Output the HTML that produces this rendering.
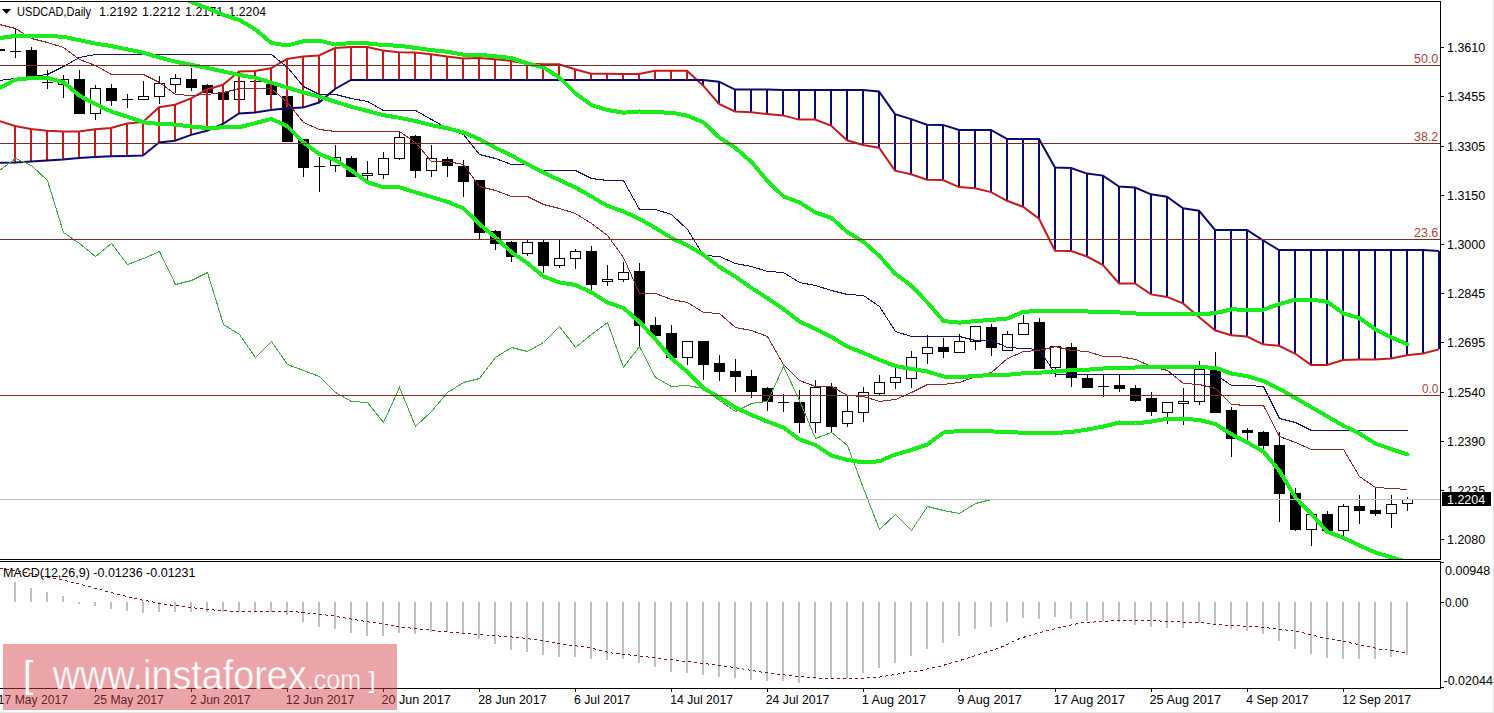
<!DOCTYPE html><html><head><meta charset="utf-8"><style>html,body{margin:0;padding:0;background:#fff;overflow:hidden}svg{display:block}text{font-family:"Liberation Sans",sans-serif}</style></head><body>
<svg width="1494" height="713" viewBox="0 0 1494 713">
<defs><clipPath id="cm"><rect x="0" y="2" width="1440" height="557"/></clipPath><clipPath id="cd"><rect x="0" y="562" width="1440" height="126"/></clipPath></defs>
<rect width="1494" height="713" fill="#fff"/>
<path d="M2,9 L11,9 L6.5,14 Z" fill="#000"/>
<text x="17.12" y="16" font-size="12.5" fill="#000" textLength="73.92" lengthAdjust="spacingAndGlyphs">USDCAD,Daily</text>
<text x="98.99" y="16" font-size="12.5" fill="#000" textLength="38.44" lengthAdjust="spacingAndGlyphs">1.2192</text>
<text x="141.99" y="16" font-size="12.5" fill="#000" textLength="38.44" lengthAdjust="spacingAndGlyphs">1.2212</text>
<text x="185.00" y="16" font-size="12.5" fill="#000" textLength="38.23" lengthAdjust="spacingAndGlyphs">1.2171</text>
<text x="228.62" y="16" font-size="12.5" fill="#000" textLength="37.41" lengthAdjust="spacingAndGlyphs">1.2204</text>
<g clip-path="url(#cm)">
<g shape-rendering="crispEdges">
<rect x="-1" y="49" width="1" height="2" fill="#000"/>
<rect x="-6" y="49" width="11" height="2" fill="#000"/>
<rect x="15" y="28" width="1" height="30" fill="#000"/>
<rect x="10" y="51" width="11" height="1" fill="#000"/>
<rect x="31" y="47" width="1" height="31" fill="#000"/>
<rect x="26" y="50" width="11" height="28" fill="#000"/>
<rect x="47" y="70" width="1" height="19" fill="#000"/>
<rect x="42" y="82" width="11" height="1" fill="#000"/>
<rect x="63" y="75" width="1" height="23" fill="#000"/>
<rect x="58" y="79" width="11" height="6" fill="#000"/>
<rect x="59" y="80" width="9" height="4" fill="#fff"/>
<rect x="79" y="70" width="1" height="44" fill="#000"/>
<rect x="74" y="79" width="11" height="35" fill="#000"/>
<rect x="95" y="85" width="1" height="35" fill="#000"/>
<rect x="90" y="88" width="11" height="26" fill="#000"/>
<rect x="91" y="89" width="9" height="24" fill="#fff"/>
<rect x="111" y="84" width="1" height="22" fill="#000"/>
<rect x="106" y="88" width="11" height="13" fill="#000"/>
<rect x="127" y="94" width="1" height="14" fill="#000"/>
<rect x="122" y="99" width="11" height="1" fill="#000"/>
<rect x="143" y="81" width="1" height="19" fill="#000"/>
<rect x="138" y="96" width="11" height="4" fill="#000"/>
<rect x="139" y="97" width="9" height="2" fill="#fff"/>
<rect x="159" y="76" width="1" height="28" fill="#000"/>
<rect x="154" y="83" width="11" height="14" fill="#000"/>
<rect x="155" y="84" width="9" height="12" fill="#fff"/>
<rect x="175" y="74" width="1" height="19" fill="#000"/>
<rect x="170" y="78" width="11" height="7" fill="#000"/>
<rect x="171" y="79" width="9" height="5" fill="#fff"/>
<rect x="191" y="68" width="1" height="23" fill="#000"/>
<rect x="186" y="79" width="11" height="9" fill="#000"/>
<rect x="207" y="84" width="1" height="9" fill="#000"/>
<rect x="202" y="85" width="11" height="8" fill="#000"/>
<rect x="223" y="91" width="1" height="9" fill="#000"/>
<rect x="218" y="92" width="11" height="8" fill="#000"/>
<rect x="239" y="81" width="1" height="19" fill="#000"/>
<rect x="234" y="81" width="11" height="19" fill="#000"/>
<rect x="235" y="82" width="9" height="17" fill="#fff"/>
<rect x="255" y="78" width="1" height="5" fill="#000"/>
<rect x="250" y="81" width="11" height="1" fill="#000"/>
<rect x="271" y="82" width="1" height="13" fill="#000"/>
<rect x="266" y="84" width="11" height="11" fill="#000"/>
<rect x="287" y="96" width="1" height="46" fill="#000"/>
<rect x="282" y="96" width="11" height="46" fill="#000"/>
<rect x="303" y="139" width="1" height="38" fill="#000"/>
<rect x="298" y="139" width="11" height="29" fill="#000"/>
<rect x="319" y="157" width="1" height="35" fill="#000"/>
<rect x="314" y="166" width="11" height="1" fill="#000"/>
<rect x="335" y="145" width="1" height="27" fill="#000"/>
<rect x="330" y="157" width="11" height="9" fill="#000"/>
<rect x="331" y="158" width="9" height="7" fill="#fff"/>
<rect x="351" y="156" width="1" height="21" fill="#000"/>
<rect x="346" y="158" width="11" height="19" fill="#000"/>
<rect x="367" y="161" width="1" height="19" fill="#000"/>
<rect x="362" y="173" width="11" height="3" fill="#000"/>
<rect x="363" y="174" width="9" height="1" fill="#fff"/>
<rect x="383" y="152" width="1" height="27" fill="#000"/>
<rect x="378" y="158" width="11" height="17" fill="#000"/>
<rect x="379" y="159" width="9" height="15" fill="#fff"/>
<rect x="399" y="132" width="1" height="28" fill="#000"/>
<rect x="394" y="137" width="11" height="22" fill="#000"/>
<rect x="395" y="138" width="9" height="20" fill="#fff"/>
<rect x="415" y="135" width="1" height="43" fill="#000"/>
<rect x="410" y="136" width="11" height="35" fill="#000"/>
<rect x="431" y="145" width="1" height="32" fill="#000"/>
<rect x="426" y="158" width="11" height="13" fill="#000"/>
<rect x="427" y="159" width="9" height="11" fill="#fff"/>
<rect x="447" y="157" width="1" height="20" fill="#000"/>
<rect x="442" y="159" width="11" height="7" fill="#000"/>
<rect x="463" y="160" width="1" height="37" fill="#000"/>
<rect x="458" y="166" width="11" height="16" fill="#000"/>
<rect x="479" y="180" width="1" height="59" fill="#000"/>
<rect x="474" y="180" width="11" height="53" fill="#000"/>
<rect x="495" y="230" width="1" height="20" fill="#000"/>
<rect x="490" y="231" width="11" height="13" fill="#000"/>
<rect x="511" y="241" width="1" height="21" fill="#000"/>
<rect x="506" y="242" width="11" height="15" fill="#000"/>
<rect x="527" y="240" width="1" height="16" fill="#000"/>
<rect x="522" y="242" width="11" height="12" fill="#000"/>
<rect x="523" y="243" width="9" height="10" fill="#fff"/>
<rect x="543" y="240" width="1" height="33" fill="#000"/>
<rect x="538" y="242" width="11" height="24" fill="#000"/>
<rect x="559" y="239" width="1" height="29" fill="#000"/>
<rect x="554" y="258" width="11" height="8" fill="#000"/>
<rect x="555" y="259" width="9" height="6" fill="#fff"/>
<rect x="575" y="249" width="1" height="20" fill="#000"/>
<rect x="570" y="251" width="11" height="8" fill="#000"/>
<rect x="571" y="252" width="9" height="6" fill="#fff"/>
<rect x="591" y="246" width="1" height="44" fill="#000"/>
<rect x="586" y="251" width="11" height="34" fill="#000"/>
<rect x="607" y="265" width="1" height="21" fill="#000"/>
<rect x="602" y="279" width="11" height="3" fill="#000"/>
<rect x="603" y="280" width="9" height="1" fill="#fff"/>
<rect x="623" y="262" width="1" height="20" fill="#000"/>
<rect x="618" y="272" width="11" height="8" fill="#000"/>
<rect x="619" y="273" width="9" height="6" fill="#fff"/>
<rect x="639" y="263" width="1" height="84" fill="#000"/>
<rect x="634" y="271" width="11" height="55" fill="#000"/>
<rect x="655" y="317" width="1" height="19" fill="#000"/>
<rect x="650" y="325" width="11" height="11" fill="#000"/>
<rect x="671" y="325" width="1" height="33" fill="#000"/>
<rect x="666" y="333" width="11" height="25" fill="#000"/>
<rect x="687" y="341" width="1" height="24" fill="#000"/>
<rect x="682" y="341" width="11" height="17" fill="#000"/>
<rect x="683" y="342" width="9" height="15" fill="#fff"/>
<rect x="703" y="341" width="1" height="39" fill="#000"/>
<rect x="698" y="341" width="11" height="24" fill="#000"/>
<rect x="719" y="355" width="1" height="26" fill="#000"/>
<rect x="714" y="363" width="11" height="9" fill="#000"/>
<rect x="735" y="359" width="1" height="33" fill="#000"/>
<rect x="730" y="371" width="11" height="6" fill="#000"/>
<rect x="751" y="370" width="1" height="28" fill="#000"/>
<rect x="746" y="376" width="11" height="16" fill="#000"/>
<rect x="767" y="387" width="1" height="24" fill="#000"/>
<rect x="762" y="388" width="11" height="14" fill="#000"/>
<rect x="783" y="394" width="1" height="18" fill="#000"/>
<rect x="778" y="402" width="11" height="1" fill="#000"/>
<rect x="799" y="390" width="1" height="43" fill="#000"/>
<rect x="794" y="402" width="11" height="21" fill="#000"/>
<rect x="815" y="380" width="1" height="53" fill="#000"/>
<rect x="810" y="387" width="11" height="36" fill="#000"/>
<rect x="811" y="388" width="9" height="34" fill="#fff"/>
<rect x="831" y="383" width="1" height="49" fill="#000"/>
<rect x="826" y="387" width="11" height="40" fill="#000"/>
<rect x="847" y="395" width="1" height="32" fill="#000"/>
<rect x="842" y="411" width="11" height="13" fill="#000"/>
<rect x="843" y="412" width="9" height="11" fill="#fff"/>
<rect x="863" y="387" width="1" height="35" fill="#000"/>
<rect x="858" y="392" width="11" height="21" fill="#000"/>
<rect x="859" y="393" width="9" height="19" fill="#fff"/>
<rect x="879" y="375" width="1" height="21" fill="#000"/>
<rect x="874" y="382" width="11" height="12" fill="#000"/>
<rect x="875" y="383" width="9" height="10" fill="#fff"/>
<rect x="895" y="368" width="1" height="21" fill="#000"/>
<rect x="890" y="377" width="11" height="6" fill="#000"/>
<rect x="891" y="378" width="9" height="4" fill="#fff"/>
<rect x="911" y="351" width="1" height="37" fill="#000"/>
<rect x="906" y="357" width="11" height="22" fill="#000"/>
<rect x="907" y="358" width="9" height="20" fill="#fff"/>
<rect x="927" y="335" width="1" height="29" fill="#000"/>
<rect x="922" y="347" width="11" height="7" fill="#000"/>
<rect x="923" y="348" width="9" height="5" fill="#fff"/>
<rect x="943" y="338" width="1" height="20" fill="#000"/>
<rect x="938" y="347" width="11" height="5" fill="#000"/>
<rect x="959" y="334" width="1" height="19" fill="#000"/>
<rect x="954" y="341" width="11" height="12" fill="#000"/>
<rect x="955" y="342" width="9" height="10" fill="#fff"/>
<rect x="975" y="326" width="1" height="24" fill="#000"/>
<rect x="970" y="326" width="11" height="16" fill="#000"/>
<rect x="971" y="327" width="9" height="14" fill="#fff"/>
<rect x="991" y="324" width="1" height="32" fill="#000"/>
<rect x="986" y="327" width="11" height="21" fill="#000"/>
<rect x="1007" y="331" width="1" height="20" fill="#000"/>
<rect x="1002" y="334" width="11" height="17" fill="#000"/>
<rect x="1003" y="335" width="9" height="15" fill="#fff"/>
<rect x="1023" y="315" width="1" height="20" fill="#000"/>
<rect x="1018" y="323" width="11" height="12" fill="#000"/>
<rect x="1019" y="324" width="9" height="10" fill="#fff"/>
<rect x="1039" y="318" width="1" height="51" fill="#000"/>
<rect x="1034" y="322" width="11" height="47" fill="#000"/>
<rect x="1055" y="346" width="1" height="31" fill="#000"/>
<rect x="1050" y="346" width="11" height="22" fill="#000"/>
<rect x="1051" y="347" width="9" height="20" fill="#fff"/>
<rect x="1071" y="343" width="1" height="44" fill="#000"/>
<rect x="1066" y="347" width="11" height="31" fill="#000"/>
<rect x="1087" y="374" width="1" height="14" fill="#000"/>
<rect x="1082" y="378" width="11" height="10" fill="#000"/>
<rect x="1103" y="374" width="1" height="23" fill="#000"/>
<rect x="1098" y="386" width="11" height="1" fill="#000"/>
<rect x="1119" y="374" width="1" height="18" fill="#000"/>
<rect x="1114" y="385" width="11" height="4" fill="#000"/>
<rect x="1135" y="385" width="1" height="17" fill="#000"/>
<rect x="1130" y="388" width="11" height="13" fill="#000"/>
<rect x="1151" y="392" width="1" height="24" fill="#000"/>
<rect x="1146" y="398" width="11" height="14" fill="#000"/>
<rect x="1167" y="402" width="1" height="22" fill="#000"/>
<rect x="1162" y="402" width="11" height="11" fill="#000"/>
<rect x="1163" y="403" width="9" height="9" fill="#fff"/>
<rect x="1183" y="388" width="1" height="37" fill="#000"/>
<rect x="1178" y="401" width="11" height="3" fill="#000"/>
<rect x="1179" y="402" width="9" height="1" fill="#fff"/>
<rect x="1199" y="361" width="1" height="44" fill="#000"/>
<rect x="1194" y="369" width="11" height="33" fill="#000"/>
<rect x="1195" y="370" width="9" height="31" fill="#fff"/>
<rect x="1215" y="352" width="1" height="61" fill="#000"/>
<rect x="1210" y="370" width="11" height="43" fill="#000"/>
<rect x="1231" y="407" width="1" height="50" fill="#000"/>
<rect x="1226" y="410" width="11" height="29" fill="#000"/>
<rect x="1247" y="428" width="1" height="14" fill="#000"/>
<rect x="1242" y="430" width="11" height="3" fill="#000"/>
<rect x="1263" y="431" width="1" height="21" fill="#000"/>
<rect x="1258" y="432" width="11" height="14" fill="#000"/>
<rect x="1279" y="432" width="1" height="90" fill="#000"/>
<rect x="1274" y="445" width="11" height="49" fill="#000"/>
<rect x="1295" y="488" width="1" height="43" fill="#000"/>
<rect x="1290" y="493" width="11" height="37" fill="#000"/>
<rect x="1311" y="514" width="1" height="32" fill="#000"/>
<rect x="1306" y="514" width="11" height="16" fill="#000"/>
<rect x="1307" y="515" width="9" height="14" fill="#fff"/>
<rect x="1327" y="511" width="1" height="20" fill="#000"/>
<rect x="1322" y="514" width="11" height="17" fill="#000"/>
<rect x="1343" y="504" width="1" height="33" fill="#000"/>
<rect x="1338" y="506" width="11" height="25" fill="#000"/>
<rect x="1339" y="507" width="9" height="23" fill="#fff"/>
<rect x="1359" y="495" width="1" height="29" fill="#000"/>
<rect x="1354" y="506" width="11" height="5" fill="#000"/>
<rect x="1375" y="487" width="1" height="29" fill="#000"/>
<rect x="1370" y="510" width="11" height="4" fill="#000"/>
<rect x="1391" y="495" width="1" height="33" fill="#000"/>
<rect x="1386" y="504" width="11" height="10" fill="#000"/>
<rect x="1387" y="505" width="9" height="8" fill="#fff"/>
<rect x="1407" y="497" width="1" height="14" fill="#000"/>
<rect x="1402" y="499" width="11" height="5" fill="#000"/>
<rect x="1403" y="500" width="9" height="3" fill="#fff"/>
</g>
<g stroke-width="2" shape-rendering="crispEdges">
<line x1="-1.0" y1="121" x2="-1.0" y2="162.8" stroke="#c41c1c"/>
<line x1="15.0" y1="126" x2="15.0" y2="162.4" stroke="#c41c1c"/>
<line x1="31.0" y1="129" x2="31.0" y2="161.5" stroke="#c41c1c"/>
<line x1="47.0" y1="130.7" x2="47.0" y2="160.5" stroke="#c41c1c"/>
<line x1="63.0" y1="131.5" x2="63.0" y2="159.5" stroke="#c41c1c"/>
<line x1="79.0" y1="131.5" x2="79.0" y2="158" stroke="#c41c1c"/>
<line x1="95.0" y1="129.3" x2="95.0" y2="157" stroke="#c41c1c"/>
<line x1="111.0" y1="128" x2="111.0" y2="156.2" stroke="#c41c1c"/>
<line x1="127.0" y1="123.6" x2="127.0" y2="156" stroke="#c41c1c"/>
<line x1="143.0" y1="122" x2="143.0" y2="155.6" stroke="#c41c1c"/>
<line x1="159.0" y1="107.2" x2="159.0" y2="142.5" stroke="#c41c1c"/>
<line x1="175.0" y1="104.8" x2="175.0" y2="140.8" stroke="#c41c1c"/>
<line x1="191.0" y1="98.4" x2="191.0" y2="134.9" stroke="#c41c1c"/>
<line x1="207.0" y1="89.5" x2="207.0" y2="130.7" stroke="#c41c1c"/>
<line x1="223.0" y1="84.8" x2="223.0" y2="123.9" stroke="#c41c1c"/>
<line x1="239.0" y1="71.6" x2="239.0" y2="113.5" stroke="#c41c1c"/>
<line x1="255.0" y1="70.9" x2="255.0" y2="112.5" stroke="#c41c1c"/>
<line x1="271.0" y1="68.3" x2="271.0" y2="110.1" stroke="#c41c1c"/>
<line x1="287.0" y1="59" x2="287.0" y2="108.2" stroke="#c41c1c"/>
<line x1="303.0" y1="56.4" x2="303.0" y2="107.6" stroke="#c41c1c"/>
<line x1="319.0" y1="55.5" x2="319.0" y2="102.5" stroke="#c41c1c"/>
<line x1="335.0" y1="48" x2="335.0" y2="89" stroke="#c41c1c"/>
<line x1="351.0" y1="47.1" x2="351.0" y2="79.9" stroke="#c41c1c"/>
<line x1="367.0" y1="47.1" x2="367.0" y2="79.9" stroke="#c41c1c"/>
<line x1="383.0" y1="50.5" x2="383.0" y2="79.9" stroke="#c41c1c"/>
<line x1="399.0" y1="52.2" x2="399.0" y2="79.9" stroke="#c41c1c"/>
<line x1="415.0" y1="52.5" x2="415.0" y2="79.9" stroke="#c41c1c"/>
<line x1="431.0" y1="54.2" x2="431.0" y2="79.9" stroke="#c41c1c"/>
<line x1="447.0" y1="56.4" x2="447.0" y2="79.9" stroke="#c41c1c"/>
<line x1="463.0" y1="58.5" x2="463.0" y2="79.9" stroke="#c41c1c"/>
<line x1="479.0" y1="58" x2="479.0" y2="79.9" stroke="#c41c1c"/>
<line x1="495.0" y1="59.2" x2="495.0" y2="79.9" stroke="#c41c1c"/>
<line x1="511.0" y1="60.9" x2="511.0" y2="79.9" stroke="#c41c1c"/>
<line x1="527.0" y1="63.6" x2="527.0" y2="79.9" stroke="#c41c1c"/>
<line x1="543.0" y1="64.3" x2="543.0" y2="79.9" stroke="#c41c1c"/>
<line x1="559.0" y1="64.3" x2="559.0" y2="79.9" stroke="#c41c1c"/>
<line x1="575.0" y1="69.3" x2="575.0" y2="79.9" stroke="#c41c1c"/>
<line x1="591.0" y1="73.7" x2="591.0" y2="79.9" stroke="#c41c1c"/>
<line x1="607.0" y1="73.8" x2="607.0" y2="79.9" stroke="#c41c1c"/>
<line x1="623.0" y1="74" x2="623.0" y2="79.9" stroke="#c41c1c"/>
<line x1="639.0" y1="74" x2="639.0" y2="79.9" stroke="#c41c1c"/>
<line x1="655.0" y1="70.8" x2="655.0" y2="79.9" stroke="#c41c1c"/>
<line x1="671.0" y1="70.8" x2="671.0" y2="79.9" stroke="#c41c1c"/>
<line x1="687.0" y1="70.8" x2="687.0" y2="79.9" stroke="#c41c1c"/>
<line x1="703.0" y1="85.4" x2="703.0" y2="79.9" stroke="#0a0a6e"/>
<line x1="719.0" y1="103.9" x2="719.0" y2="81.7" stroke="#0a0a6e"/>
<line x1="735.0" y1="111.5" x2="735.0" y2="89.6" stroke="#0a0a6e"/>
<line x1="751.0" y1="112.3" x2="751.0" y2="89.6" stroke="#0a0a6e"/>
<line x1="767.0" y1="114" x2="767.0" y2="89.6" stroke="#0a0a6e"/>
<line x1="783.0" y1="115.4" x2="783.0" y2="89.9" stroke="#0a0a6e"/>
<line x1="799.0" y1="119.6" x2="799.0" y2="89.9" stroke="#0a0a6e"/>
<line x1="815.0" y1="119.6" x2="815.0" y2="89.9" stroke="#0a0a6e"/>
<line x1="831.0" y1="125.5" x2="831.0" y2="89.9" stroke="#0a0a6e"/>
<line x1="847.0" y1="140.3" x2="847.0" y2="89.9" stroke="#0a0a6e"/>
<line x1="863.0" y1="144.9" x2="863.0" y2="89.9" stroke="#0a0a6e"/>
<line x1="879.0" y1="147.7" x2="879.0" y2="91.5" stroke="#0a0a6e"/>
<line x1="895.0" y1="170.6" x2="895.0" y2="114.1" stroke="#0a0a6e"/>
<line x1="911.0" y1="174.3" x2="911.0" y2="119.1" stroke="#0a0a6e"/>
<line x1="927.0" y1="179.7" x2="927.0" y2="124.7" stroke="#0a0a6e"/>
<line x1="943.0" y1="180" x2="943.0" y2="124.9" stroke="#0a0a6e"/>
<line x1="959.0" y1="187.1" x2="959.0" y2="129.9" stroke="#0a0a6e"/>
<line x1="975.0" y1="188.2" x2="975.0" y2="129.9" stroke="#0a0a6e"/>
<line x1="991.0" y1="192.1" x2="991.0" y2="129.9" stroke="#0a0a6e"/>
<line x1="1007.0" y1="200.8" x2="1007.0" y2="138.9" stroke="#0a0a6e"/>
<line x1="1023.0" y1="206.7" x2="1023.0" y2="138.9" stroke="#0a0a6e"/>
<line x1="1039.0" y1="218.7" x2="1039.0" y2="138.9" stroke="#0a0a6e"/>
<line x1="1055.0" y1="250.7" x2="1055.0" y2="167.5" stroke="#0a0a6e"/>
<line x1="1071.0" y1="251" x2="1071.0" y2="168" stroke="#0a0a6e"/>
<line x1="1087.0" y1="256.5" x2="1087.0" y2="173.6" stroke="#0a0a6e"/>
<line x1="1103.0" y1="265" x2="1103.0" y2="175.6" stroke="#0a0a6e"/>
<line x1="1119.0" y1="283.5" x2="1119.0" y2="186.5" stroke="#0a0a6e"/>
<line x1="1135.0" y1="283.5" x2="1135.0" y2="187.6" stroke="#0a0a6e"/>
<line x1="1151.0" y1="294.4" x2="1151.0" y2="194.3" stroke="#0a0a6e"/>
<line x1="1167.0" y1="296.9" x2="1167.0" y2="196.8" stroke="#0a0a6e"/>
<line x1="1183.0" y1="303.4" x2="1183.0" y2="208.3" stroke="#0a0a6e"/>
<line x1="1199.0" y1="317" x2="1199.0" y2="210.7" stroke="#0a0a6e"/>
<line x1="1215.0" y1="330.3" x2="1215.0" y2="229.9" stroke="#0a0a6e"/>
<line x1="1231.0" y1="335.2" x2="1231.0" y2="229.9" stroke="#0a0a6e"/>
<line x1="1247.0" y1="336.6" x2="1247.0" y2="229.9" stroke="#0a0a6e"/>
<line x1="1263.0" y1="344.3" x2="1263.0" y2="240.4" stroke="#0a0a6e"/>
<line x1="1279.0" y1="345.8" x2="1279.0" y2="250" stroke="#0a0a6e"/>
<line x1="1295.0" y1="353.5" x2="1295.0" y2="250" stroke="#0a0a6e"/>
<line x1="1311.0" y1="364.9" x2="1311.0" y2="250" stroke="#0a0a6e"/>
<line x1="1327.0" y1="364.9" x2="1327.0" y2="250" stroke="#0a0a6e"/>
<line x1="1343.0" y1="360" x2="1343.0" y2="250" stroke="#0a0a6e"/>
<line x1="1359.0" y1="359.4" x2="1359.0" y2="250" stroke="#0a0a6e"/>
<line x1="1375.0" y1="359.4" x2="1375.0" y2="250" stroke="#0a0a6e"/>
<line x1="1391.0" y1="358.5" x2="1391.0" y2="250" stroke="#0a0a6e"/>
<line x1="1407.0" y1="355.2" x2="1407.0" y2="250" stroke="#0a0a6e"/>
<line x1="1423.0" y1="353.4" x2="1423.0" y2="250" stroke="#0a0a6e"/>
<line x1="1439.0" y1="349.4" x2="1439.0" y2="250.9" stroke="#0a0a6e"/>
</g>
<polyline points="-1,121 15,126 31,129 47,130.7 63,131.5 79,131.5 95,129.3 111,128 127,123.6 143,122 159,107.2 175,104.8 191,98.4 207,89.5 223,84.8 239,71.6 255,70.9 271,68.3 287,59 303,56.4 319,55.5 335,48 351,47.1 367,47.1 383,50.5 399,52.2 415,52.5 431,54.2 447,56.4 463,58.5 479,58 495,59.2 511,60.9 527,63.6 543,64.3 559,64.3 575,69.3 591,73.7 607,73.8 623,74 639,74 655,70.8 671,70.8 687,70.8 703,85.4 719,103.9 735,111.5 751,112.3 767,114 783,115.4 799,119.6 815,119.6 831,125.5 847,140.3 863,144.9 879,147.7 895,170.6 911,174.3 927,179.7 943,180 959,187.1 975,188.2 991,192.1 1007,200.8 1023,206.7 1039,218.7 1055,250.7 1071,251 1087,256.5 1103,265 1119,283.5 1135,283.5 1151,294.4 1167,296.9 1183,303.4 1199,317 1215,330.3 1231,335.2 1247,336.6 1263,344.3 1279,345.8 1295,353.5 1311,364.9 1327,364.9 1343,360 1359,359.4 1375,359.4 1391,358.5 1407,355.2 1423,353.4 1439,349.4" fill="none" stroke="#c41c1c" stroke-width="2"/>
<polyline points="-1,162.8 15,162.4 31,161.5 47,160.5 63,159.5 79,158 95,157 111,156.2 127,156 143,155.6 159,142.5 175,140.8 191,134.9 207,130.7 223,123.9 239,113.5 255,112.5 271,110.1 287,108.2 303,107.6 319,102.5 335,89 351,79.9 367,79.9 383,79.9 399,79.9 415,79.9 431,79.9 447,79.9 463,79.9 479,79.9 495,79.9 511,79.9 527,79.9 543,79.9 559,79.9 575,79.9 591,79.9 607,79.9 623,79.9 639,79.9 655,79.9 671,79.9 687,79.9 703,79.9 719,81.7 735,89.6 751,89.6 767,89.6 783,89.9 799,89.9 815,89.9 831,89.9 847,89.9 863,89.9 879,91.5 895,114.1 911,119.1 927,124.7 943,124.9 959,129.9 975,129.9 991,129.9 1007,138.9 1023,138.9 1039,138.9 1055,167.5 1071,168 1087,173.6 1103,175.6 1119,186.5 1135,187.6 1151,194.3 1167,196.8 1183,208.3 1199,210.7 1215,229.9 1231,229.9 1247,229.9 1263,240.4 1279,250 1295,250 1311,250 1327,250 1343,250 1359,250 1375,250 1391,250 1407,250 1423,250 1439,250.9" fill="none" stroke="#0a0a6e" stroke-width="2"/>
<polyline points="-0.5,24.5 15.5,28.5 31.5,38.5 47.5,42.5 63.5,47.5 79.5,59.5 95.5,65.5 111.5,74.5 127.5,74.5 143.5,74.5 159.5,82.5 175.5,94.5 191.5,95.5 207.5,94.5 223.5,92.5 239.5,88.5 255.5,88.5 271.5,88.5 287.5,102.5 303.5,122.5 319.5,129.5 335.5,131.5 351.5,131.5 367.5,131.5 383.5,131.5 399.5,131.5 415.5,142.5 431.5,161.5 447.5,161.5 463.5,164.5 479.5,186.5 495.5,190.5 511.5,196.5 527.5,196.5 543.5,204.5 559.5,208.5 575.5,213.5 591.5,223.5 607.5,235.5 623.5,257.5 639.5,293.5 655.5,293.5 671.5,299.5 687.5,302.5 703.5,312.5 719.5,313.5 735.5,327.5 751.5,330.5 767.5,336.5 783.5,364.5 799.5,380.5 815.5,386.5 831.5,386.5 847.5,395.5 863.5,396.5 879.5,401.5 895.5,399.5 911.5,392.5 927.5,384.5 943.5,384.5 959.5,382.5 975.5,376.5 991.5,372.5 1007.5,358.5 1023.5,351.5 1039.5,350.5 1055.5,346.5 1071.5,350.5 1087.5,351.5 1103.5,356.5 1119.5,356.5 1135.5,359.5 1151.5,366.5 1167.5,370.5 1183.5,383.5 1199.5,384.5 1215.5,388.5 1231.5,404.5 1247.5,405.5 1263.5,405.5 1279.5,436.5 1295.5,442.5 1311.5,449.5 1327.5,449.5 1343.5,449.5 1359.5,476.5 1375.5,487.5 1391.5,488.5 1407.5,489.5" fill="none" stroke="#8c2828" stroke-width="1" shape-rendering="crispEdges"/>
<polyline points="-0.5,80.5 15.5,78.5 31.5,76.5 47.5,74.5 63.5,66.5 79.5,57.5 95.5,54.5 111.5,54.5 127.5,54.5 143.5,54.5 159.5,54.5 175.5,54.5 191.5,54.5 207.5,54.5 223.5,54.5 239.5,54.5 255.5,54.5 271.5,54.5 287.5,67.5 303.5,86.5 319.5,94.5 335.5,94.5 351.5,98.5 367.5,101.5 383.5,110.5 399.5,110.5 415.5,110.5 431.5,119.5 447.5,128.5 463.5,134.5 479.5,154.5 495.5,158.5 511.5,164.5 527.5,164.5 543.5,170.5 559.5,170.5 575.5,170.5 591.5,178.5 607.5,180.5 623.5,180.5 639.5,209.5 655.5,209.5 671.5,214.5 687.5,229.5 703.5,255.5 719.5,256.5 735.5,263.5 751.5,266.5 767.5,271.5 783.5,272.5 799.5,282.5 815.5,285.5 831.5,290.5 847.5,294.5 863.5,295.5 879.5,306.5 895.5,331.5 911.5,336.5 927.5,336.5 943.5,336.5 959.5,336.5 975.5,340.5 991.5,340.5 1007.5,347.5 1023.5,348.5 1039.5,349.5 1055.5,374.5 1071.5,374.5 1087.5,374.5 1103.5,374.5 1119.5,374.5 1135.5,374.5 1151.5,374.5 1167.5,374.5 1183.5,374.5 1199.5,374.5 1215.5,374.5 1231.5,385.5 1247.5,385.5 1263.5,386.5 1279.5,418.5 1295.5,422.5 1311.5,430.5 1327.5,430.5 1343.5,430.5 1359.5,430.5 1375.5,430.5 1391.5,430.5 1407.5,430.5" fill="none" stroke="#141464" stroke-width="1" shape-rendering="crispEdges"/>
<polyline points="-0.5,170.5 15.5,158.5 31.5,165.5 47.5,180.5 63.5,232.5 79.5,243.5 95.5,256.5 111.5,243.5 127.5,264.5 143.5,258.5 159.5,251.5 175.5,284.5 191.5,280.5 207.5,272.5 223.5,324.5 239.5,334.5 255.5,357.5 271.5,341.5 287.5,364.5 303.5,370.5 319.5,376.5 335.5,392.5 351.5,401.5 367.5,402.5 383.5,422.5 399.5,387.5 415.5,426.5 431.5,411.5 447.5,392.5 463.5,382.5 479.5,378.5 495.5,357.5 511.5,347.5 527.5,351.5 543.5,342.5 559.5,326.5 575.5,347.5 591.5,334.5 607.5,322.5 623.5,367.5 639.5,346.5 655.5,377.5 671.5,386.5 687.5,385.5 703.5,388.5 719.5,400.5 735.5,411.5 751.5,403.5 767.5,401.5 783.5,366.5 799.5,400.5 815.5,438.5 831.5,432.5 847.5,445.5 863.5,488.5 879.5,529.5 895.5,514.5 911.5,530.5 927.5,506.5 943.5,510.5 959.5,513.5 975.5,503.5 991.5,499.5" fill="none" stroke="#40a840" stroke-width="1" shape-rendering="crispEdges"/>
<polyline points="175.5,-5 191.5,2 207.5,8.2 223.5,15 239.5,20 255.5,29.5 271.5,43 287.5,45.5 303.5,41.2 319.5,40.7 335.5,44.6 351.5,42.9 367.5,43.4 383.5,45.1 399.5,45.8 415.5,47.9 431.5,50.1 447.5,51.8 463.5,54.7 479.5,54.7 495.5,56.4 511.5,58 527.5,63.6 543.5,67.3 559.5,77.7 575.5,93.4 591.5,105.1 607.5,110 623.5,112.7 639.5,111.5 655.5,112.3 671.5,112.7 687.5,115.7 703.5,122.4 719.5,137.6 735.5,148 751.5,162 767.5,181 783.5,196.5 799.5,202.4 815.5,212.5 831.5,217.9 847.5,232.2 863.5,241.8 879.5,256.1 895.5,274 911.5,285.9 927.5,302.6 943.5,321 959.5,322.7 975.5,321 991.5,319.9 1007.5,318.5 1023.5,311.8 1039.5,310.9 1055.5,310.8 1071.5,311 1087.5,311.5 1103.5,312 1119.5,312.5 1135.5,313.5 1151.5,314.2 1167.5,314.2 1183.5,314.2 1199.5,314.4 1215.5,313.1 1231.5,309.4 1247.5,309.7 1263.5,309.7 1279.5,304 1295.5,299.6 1311.5,299.6 1327.5,301.9 1343.5,313.5 1359.5,318.1 1375.5,329.3 1391.5,337.5 1407.5,344.2" fill="none" stroke="#1aeb1a" stroke-width="4" stroke-linejoin="round" stroke-linecap="round" shape-rendering="crispEdges"/>
<polyline points="-0.5,38 15.5,36 31.5,35.5 47.5,36 63.5,36.8 79.5,40.2 95.5,43.6 111.5,46.1 127.5,49.4 143.5,52.8 159.5,57.5 175.5,61.7 191.5,64.8 207.5,68 223.5,71.5 239.5,75 255.5,77.8 271.5,82.7 287.5,87.6 303.5,92.5 319.5,96.7 335.5,101.8 351.5,106.8 367.5,111 383.5,115.2 399.5,117.8 415.5,121 431.5,125.2 447.5,128.3 463.5,132.4 479.5,139.2 495.5,147.8 511.5,155.6 527.5,164.2 543.5,172.5 559.5,180.2 575.5,187.5 591.5,196.6 607.5,205.9 623.5,211.5 639.5,218.8 655.5,228 671.5,238 687.5,245.5 703.5,254.8 719.5,267 735.5,276.7 751.5,288 767.5,298.2 783.5,309.1 799.5,321.4 815.5,329 831.5,337 847.5,346.7 863.5,353 879.5,360 895.5,366 911.5,369 927.5,371.5 943.5,376.5 959.5,377.1 975.5,376 991.5,374.9 1007.5,374.9 1023.5,373.2 1039.5,372.7 1055.5,371.4 1071.5,370.2 1087.5,369.7 1103.5,368.5 1119.5,368 1135.5,367.5 1151.5,367.2 1167.5,367.2 1183.5,367.2 1199.5,367.2 1215.5,367.8 1231.5,373.6 1247.5,376.2 1263.5,381.2 1279.5,388.8 1295.5,398 1311.5,407.3 1327.5,416.5 1343.5,425.8 1359.5,433.5 1375.5,443.6 1391.5,449.1 1407.5,454.4" fill="none" stroke="#1aeb1a" stroke-width="4" stroke-linejoin="round" stroke-linecap="round" shape-rendering="crispEdges"/>
<polyline points="-0.5,88 15.5,79.7 31.5,78 47.5,78 63.5,82.2 79.5,95.7 95.5,104.1 111.5,111.7 127.5,116.7 143.5,122.3 159.5,124 175.5,124.6 191.5,126.5 207.5,128.1 223.5,127.3 239.5,127.3 255.5,123.1 271.5,118.9 287.5,126.5 303.5,142.4 319.5,154.2 335.5,160.2 351.5,170.5 367.5,182.2 383.5,187.3 399.5,187.3 415.5,192.3 431.5,197 447.5,201.8 463.5,208.4 479.5,224.2 495.5,237.4 511.5,252.2 527.5,263.1 543.5,276.5 559.5,282.4 575.5,285 591.5,292.5 607.5,302.5 623.5,308 639.5,322 655.5,339.3 671.5,358.3 687.5,372 703.5,388.3 719.5,397.4 735.5,407.5 751.5,415 767.5,421.6 783.5,427.5 799.5,439.3 815.5,445.1 831.5,455.5 847.5,460 863.5,462.5 879.5,461.2 895.5,454.5 911.5,449.9 927.5,444.4 943.5,432.6 959.5,430.9 975.5,430.9 991.5,431.4 1007.5,432 1023.5,432.8 1039.5,433 1055.5,433 1071.5,432 1087.5,429.5 1103.5,426.5 1119.5,422.5 1135.5,423.5 1151.5,421.5 1167.5,418.7 1183.5,418.7 1199.5,420 1215.5,424.1 1231.5,434.2 1247.5,442.6 1263.5,451.5 1279.5,471 1295.5,497.5 1311.5,514.2 1327.5,531.9 1343.5,537.8 1359.5,545.6 1375.5,552.5 1391.5,557.4 1407.5,562" fill="none" stroke="#1aeb1a" stroke-width="4" stroke-linejoin="round" stroke-linecap="round" shape-rendering="crispEdges"/>
<g shape-rendering="crispEdges">
<rect x="0" y="65" width="1440" height="1" fill="#7d2c2c"/>
<rect x="0" y="143" width="1440" height="1" fill="#7d2c2c"/>
<rect x="0" y="239" width="1440" height="1" fill="#7d2c2c"/>
<rect x="0" y="395" width="1440" height="1" fill="#7d2c2c"/>
</g>
<text x="1414.00" y="63" font-size="12.5" fill="#a84444" textLength="24.34" lengthAdjust="spacingAndGlyphs">50.0</text>
<text x="1414.00" y="141" font-size="12.5" fill="#a84444" textLength="24.34" lengthAdjust="spacingAndGlyphs">38.2</text>
<text x="1414.00" y="237" font-size="12.5" fill="#a84444" textLength="24.34" lengthAdjust="spacingAndGlyphs">23.6</text>
<text x="1422.00" y="393" font-size="12.5" fill="#a84444" textLength="16.37" lengthAdjust="spacingAndGlyphs">0.0</text>
<rect x="0" y="499" width="1440" height="1" fill="#c0c0c0" shape-rendering="crispEdges"/>
</g>
<g shape-rendering="crispEdges" fill="#000">
<rect x="0" y="1" width="1441" height="1"/>
<rect x="1440" y="1" width="1" height="559"/>
<rect x="0" y="559" width="1441" height="1"/>
<rect x="0" y="561" width="1441" height="1"/>
<rect x="1440" y="561" width="1" height="128"/>
<rect x="0" y="688" width="1441" height="1"/>
<rect x="1441" y="47" width="3" height="1"/>
<rect x="1441" y="96" width="3" height="1"/>
<rect x="1441" y="146" width="3" height="1"/>
<rect x="1441" y="195" width="3" height="1"/>
<rect x="1441" y="244" width="3" height="1"/>
<rect x="1441" y="293" width="3" height="1"/>
<rect x="1441" y="342" width="3" height="1"/>
<rect x="1441" y="392" width="3" height="1"/>
<rect x="1441" y="441" width="3" height="1"/>
<rect x="1441" y="490" width="3" height="1"/>
<rect x="1441" y="539" width="3" height="1"/>
<rect x="1441" y="562" width="3" height="1"/>
<rect x="1441" y="602" width="3" height="1"/>
<rect x="1441" y="687" width="3" height="1"/>
<rect x="95" y="689" width="1" height="3"/>
<rect x="191" y="689" width="1" height="3"/>
<rect x="287" y="689" width="1" height="3"/>
<rect x="383" y="689" width="1" height="3"/>
<rect x="479" y="689" width="1" height="3"/>
<rect x="575" y="689" width="1" height="3"/>
<rect x="671" y="689" width="1" height="3"/>
<rect x="767" y="689" width="1" height="3"/>
<rect x="863" y="689" width="1" height="3"/>
<rect x="959" y="689" width="1" height="3"/>
<rect x="1055" y="689" width="1" height="3"/>
<rect x="1151" y="689" width="1" height="3"/>
<rect x="1247" y="689" width="1" height="3"/>
<rect x="1343" y="689" width="1" height="3"/>
</g>
<text x="1447.00" y="52" font-size="12.5" fill="#000" textLength="38.23" lengthAdjust="spacingAndGlyphs">1.3610</text>
<text x="1447.00" y="101" font-size="12.5" fill="#000" textLength="38.23" lengthAdjust="spacingAndGlyphs">1.3455</text>
<text x="1447.00" y="151" font-size="12.5" fill="#000" textLength="38.23" lengthAdjust="spacingAndGlyphs">1.3305</text>
<text x="1447.00" y="200" font-size="12.5" fill="#000" textLength="38.23" lengthAdjust="spacingAndGlyphs">1.3150</text>
<text x="1447.00" y="249" font-size="12.5" fill="#000" textLength="38.23" lengthAdjust="spacingAndGlyphs">1.3000</text>
<text x="1447.00" y="298" font-size="12.5" fill="#000" textLength="38.23" lengthAdjust="spacingAndGlyphs">1.2845</text>
<text x="1447.00" y="347" font-size="12.5" fill="#000" textLength="38.23" lengthAdjust="spacingAndGlyphs">1.2695</text>
<text x="1447.00" y="397" font-size="12.5" fill="#000" textLength="38.23" lengthAdjust="spacingAndGlyphs">1.2540</text>
<text x="1447.00" y="446" font-size="12.5" fill="#000" textLength="38.23" lengthAdjust="spacingAndGlyphs">1.2390</text>
<text x="1447.00" y="495" font-size="12.5" fill="#000" textLength="38.23" lengthAdjust="spacingAndGlyphs">1.2235</text>
<text x="1447.00" y="544" font-size="12.5" fill="#000" textLength="38.23" lengthAdjust="spacingAndGlyphs">1.2080</text>
<rect x="1442" y="492" width="49" height="14" fill="#000" shape-rendering="crispEdges"/>
<text x="1447.00" y="504" font-size="12.5" fill="#fff" textLength="38.23" lengthAdjust="spacingAndGlyphs">1.2204</text>
<text x="1445.00" y="575" font-size="12.5" fill="#000" textLength="45.19" lengthAdjust="spacingAndGlyphs">0.00948</text>
<text x="1445.00" y="607" font-size="12.5" fill="#000" textLength="23.33" lengthAdjust="spacingAndGlyphs">0.00</text>
<text x="1443.50" y="685" font-size="12.5" fill="#000" textLength="49.36" lengthAdjust="spacingAndGlyphs">-0.02044</text>
<text x="-2.17" y="704" font-size="12.5" fill="#000" textLength="70.25" lengthAdjust="spacingAndGlyphs">17 May 2017</text>
<text x="93.53" y="704" font-size="12.5" fill="#000" textLength="70.35" lengthAdjust="spacingAndGlyphs">25 May 2017</text>
<text x="189.92" y="704" font-size="12.5" fill="#000" textLength="60.74" lengthAdjust="spacingAndGlyphs">2 Jun 2017</text>
<text x="285.70" y="704" font-size="12.5" fill="#000" textLength="68.71" lengthAdjust="spacingAndGlyphs">12 Jun 2017</text>
<text x="381.49" y="704" font-size="12.5" fill="#000" textLength="69.22" lengthAdjust="spacingAndGlyphs">20 Jun 2017</text>
<text x="478.21" y="704" font-size="12.5" fill="#000" textLength="68.40" lengthAdjust="spacingAndGlyphs">28 Jun 2017</text>
<text x="574.12" y="704" font-size="12.5" fill="#000" textLength="56.25" lengthAdjust="spacingAndGlyphs">6 Jul 2017</text>
<text x="670.33" y="704" font-size="12.5" fill="#000" textLength="62.59" lengthAdjust="spacingAndGlyphs">14 Jul 2017</text>
<text x="765.72" y="704" font-size="12.5" fill="#000" textLength="63.61" lengthAdjust="spacingAndGlyphs">24 Jul 2017</text>
<text x="861.68" y="704" font-size="12.5" fill="#000" textLength="64.29" lengthAdjust="spacingAndGlyphs">1 Aug 2017</text>
<text x="957.28" y="704" font-size="12.5" fill="#000" textLength="64.59" lengthAdjust="spacingAndGlyphs">9 Aug 2017</text>
<text x="1053.68" y="704" font-size="12.5" fill="#000" textLength="71.34" lengthAdjust="spacingAndGlyphs">17 Aug 2017</text>
<text x="1149.48" y="704" font-size="12.5" fill="#000" textLength="71.54" lengthAdjust="spacingAndGlyphs">25 Aug 2017</text>
<text x="1246.30" y="704" font-size="12.5" fill="#000" textLength="62.35" lengthAdjust="spacingAndGlyphs">4 Sep 2017</text>
<text x="1342.23" y="704" font-size="12.5" fill="#000" textLength="68.88" lengthAdjust="spacingAndGlyphs">12 Sep 2017</text>
<g clip-path="url(#cd)">
<g shape-rendering="crispEdges" fill="#c0c0c0">
<rect x="14" y="582.0" width="2" height="20.0"/>
<rect x="30" y="588.1" width="2" height="13.9"/>
<rect x="46" y="592.2" width="2" height="9.8"/>
<rect x="62" y="596.1" width="2" height="5.9"/>
<rect x="78" y="602.0" width="2" height="1.8"/>
<rect x="94" y="602.0" width="2" height="3.9"/>
<rect x="110" y="602.0" width="2" height="6.7"/>
<rect x="126" y="602.0" width="2" height="8.8"/>
<rect x="142" y="602.0" width="2" height="10.7"/>
<rect x="158" y="602.0" width="2" height="9.8"/>
<rect x="174" y="602.0" width="2" height="9.5"/>
<rect x="190" y="602.0" width="2" height="9.7"/>
<rect x="206" y="602.0" width="2" height="9.6"/>
<rect x="222" y="602.0" width="2" height="10.1"/>
<rect x="238" y="602.0" width="2" height="8.9"/>
<rect x="254" y="602.0" width="2" height="8.9"/>
<rect x="270" y="602.0" width="2" height="9.6"/>
<rect x="286" y="602.0" width="2" height="12.7"/>
<rect x="302" y="602.0" width="2" height="20.3"/>
<rect x="318" y="602.0" width="2" height="25.4"/>
<rect x="334" y="602.0" width="2" height="27.4"/>
<rect x="350" y="602.0" width="2" height="31.2"/>
<rect x="366" y="602.0" width="2" height="33.5"/>
<rect x="382" y="602.0" width="2" height="33.5"/>
<rect x="398" y="602.0" width="2" height="30.5"/>
<rect x="414" y="602.0" width="2" height="31.8"/>
<rect x="430" y="602.0" width="2" height="30.0"/>
<rect x="446" y="602.0" width="2" height="30.0"/>
<rect x="462" y="602.0" width="2" height="31.8"/>
<rect x="478" y="602.0" width="2" height="37.3"/>
<rect x="494" y="602.0" width="2" height="42.4"/>
<rect x="510" y="602.0" width="2" height="47.5"/>
<rect x="526" y="602.0" width="2" height="49.6"/>
<rect x="542" y="602.0" width="2" height="53.4"/>
<rect x="558" y="602.0" width="2" height="54.6"/>
<rect x="574" y="602.0" width="2" height="54.6"/>
<rect x="590" y="602.0" width="2" height="56.7"/>
<rect x="606" y="602.0" width="2" height="57.7"/>
<rect x="622" y="602.0" width="2" height="56.7"/>
<rect x="638" y="602.0" width="2" height="61.0"/>
<rect x="654" y="602.0" width="2" height="64.8"/>
<rect x="670" y="602.0" width="2" height="69.9"/>
<rect x="686" y="602.0" width="2" height="70.7"/>
<rect x="702" y="602.0" width="2" height="73.0"/>
<rect x="718" y="602.0" width="2" height="75.0"/>
<rect x="734" y="602.0" width="2" height="76.3"/>
<rect x="750" y="602.0" width="2" height="77.5"/>
<rect x="766" y="602.0" width="2" height="78.8"/>
<rect x="782" y="602.0" width="2" height="78.8"/>
<rect x="798" y="602.0" width="2" height="80.8"/>
<rect x="814" y="602.0" width="2" height="77.0"/>
<rect x="830" y="602.0" width="2" height="76.3"/>
<rect x="846" y="602.0" width="2" height="76.3"/>
<rect x="862" y="602.0" width="2" height="70.7"/>
<rect x="878" y="602.0" width="2" height="66.1"/>
<rect x="894" y="602.0" width="2" height="61.0"/>
<rect x="910" y="602.0" width="2" height="54.1"/>
<rect x="926" y="602.0" width="2" height="46.7"/>
<rect x="942" y="602.0" width="2" height="40.7"/>
<rect x="958" y="602.0" width="2" height="34.3"/>
<rect x="974" y="602.0" width="2" height="27.4"/>
<rect x="990" y="602.0" width="2" height="24.6"/>
<rect x="1006" y="602.0" width="2" height="20.3"/>
<rect x="1022" y="602.0" width="2" height="15.7"/>
<rect x="1038" y="602.0" width="2" height="16.5"/>
<rect x="1054" y="602.0" width="2" height="14.5"/>
<rect x="1070" y="602.0" width="2" height="16.5"/>
<rect x="1086" y="602.0" width="2" height="18.5"/>
<rect x="1102" y="602.0" width="2" height="19.0"/>
<rect x="1118" y="602.0" width="2" height="20.3"/>
<rect x="1134" y="602.0" width="2" height="22.9"/>
<rect x="1150" y="602.0" width="2" height="24.9"/>
<rect x="1166" y="602.0" width="2" height="25.9"/>
<rect x="1182" y="602.0" width="2" height="25.8"/>
<rect x="1198" y="602.0" width="2" height="20.8"/>
<rect x="1214" y="602.0" width="2" height="23.2"/>
<rect x="1230" y="602.0" width="2" height="26.8"/>
<rect x="1246" y="602.0" width="2" height="28.8"/>
<rect x="1262" y="602.0" width="2" height="31.8"/>
<rect x="1278" y="602.0" width="2" height="38.9"/>
<rect x="1294" y="602.0" width="2" height="46.6"/>
<rect x="1310" y="602.0" width="2" height="51.6"/>
<rect x="1326" y="602.0" width="2" height="56.0"/>
<rect x="1342" y="602.0" width="2" height="56.7"/>
<rect x="1358" y="602.0" width="2" height="56.7"/>
<rect x="1374" y="602.0" width="2" height="56.7"/>
<rect x="1390" y="602.0" width="2" height="54.9"/>
<rect x="1406" y="602.0" width="2" height="52.7"/>
</g>
<text x="3.00" y="577" font-size="12.5" fill="#000" textLength="192.48" lengthAdjust="spacingAndGlyphs">MACD(12,26,9) -0.01236 -0.01231</text>
<polyline points="0,568 20,571.5 43,576.3 60,579.3 84,585.2 119,594.7 140,599.6 168,604.8 180,605.8 200,608.7 223,610.9 250,611.6 290,611.6 300,612.1 330,615.4 360,620.5 400,626.9 440,631.2 480,634.5 520,637.6 550,641.9 560,643.9 590,647.7 610,652.8 640,656.1 670,659.7 700,663 730,666.8 760,671.9 790,675.7 820,678.3 850,679 880,677 910,671.9 920,670.6 940,666.3 960,660.5 980,654.1 1000,647.7 1020,638.3 1040,632.5 1060,627.4 1080,623.1 1100,621.5 1120,620.5 1150,620.5 1180,622 1200,622.6 1220,624.8 1240,625.9 1260,627 1280,629.2 1300,632 1320,637 1340,640.8 1360,644.7 1380,649.2 1400,651.4 1407,653.5" fill="none" stroke="#7a1616" stroke-width="1" stroke-dasharray="3,3" shape-rendering="crispEdges"/>
</g>
<rect x="1493" y="0" width="1" height="713" fill="#e6e6e6"/>
<rect x="0" y="712" width="1494" height="1" fill="#e6e6e6"/>
<rect x="3" y="644" width="394" height="66" fill="rgb(213,64,72)" fill-opacity="0.47"/>
<text x="23.03" y="687" font-size="36" fill="#fff" textLength="10.39" lengthAdjust="spacingAndGlyphs">[</text>
<text x="52.80" y="689" font-size="41" fill="#fff" textLength="253.96" lengthAdjust="spacingAndGlyphs" stroke="rgb(235,165,168)" stroke-width="0.4">www.instaforex</text>
<text x="306.80" y="689" font-size="28" fill="#fff" textLength="54.51" lengthAdjust="spacingAndGlyphs" stroke="rgb(235,165,168)" stroke-width="0.4">.com</text>
<text x="368.40" y="687.5" font-size="24.5" fill="#fff" textLength="7.08" lengthAdjust="spacingAndGlyphs">]</text>
</svg></body></html>
